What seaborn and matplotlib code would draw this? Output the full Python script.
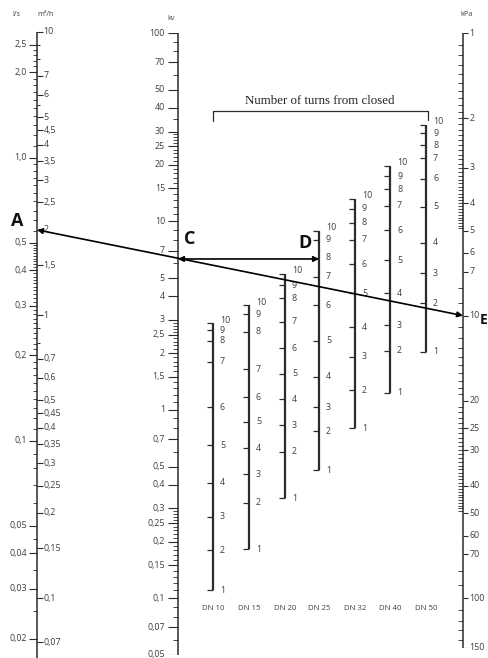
import matplotlib
matplotlib.use('Agg')
import matplotlib.pyplot as plt
import seaborn as sns
import numpy as np
from matplotlib.patches import ConnectionPatch

sns.set_theme(style='white')
plt.rcParams['font.family'] = ['Open Sans', 'DejaVu Sans']

# ---- data ----
# flow, m3/h (right side of left scale) and l/s (left side)
q_m3h_lab = ['10', '7', '6', '5', '4,5', '4', '3,5', '3', '2,5', '2', '1,5', '1',
             '0,7', '0,6', '0,5', '0,45', '0,4', '0,35', '0,3', '0,25', '0,2',
             '0,15', '0,1', '0,07']
q_ls_lab = ['2,5', '2,0', '1,0', '0,5', '0,4', '0,3', '0,2', '0,1', '0,05',
            '0,04', '0,03', '0,02']
# valve coefficient kv
kv_lab = ['100', '70', '50', '40', '30', '25', '20', '15', '10', '7', '5', '4', '3',
          '2,5', '2', '1,5', '1', '0,7', '0,5', '0,4', '0,3', '0,25', '0,2',
          '0,15', '0,1', '0,07', '0,05']
# pressure drop, kPa
dp_lab = ['1', '2', '3', '4', '5', '6', '7', '10', '20', '25', '30', '40', '50',
          '60', '70', '100', '150']

# kv at each number of turns from closed (1..10) for each valve size
turns = [1, 2, 3, 4, 5, 6, 7, 8, 9, 10]
dn_names = ['DN 10', 'DN 15', 'DN 20', 'DN 25', 'DN 32', 'DN 40', 'DN 50']
kv_dn10 = [0.11, 0.18, 0.27, 0.41, 0.65, 1.03, 1.80, 2.33, 2.65, 2.88]
kv_dn15 = [0.182, 0.321, 0.455, 0.625, 0.865, 1.17, 1.64, 2.60, 3.21, 3.60]
kv_dn20 = [0.339, 0.60, 0.83, 1.14, 1.55, 2.12, 2.94, 3.91, 4.59, 5.26]
kv_dn25 = [0.479, 0.77, 1.03, 1.50, 2.32, 3.60, 5.09, 6.40, 7.97, 8.93]
kv_dn32 = [0.80, 1.27, 1.91, 2.74, 4.15, 5.94, 7.97, 9.84, 11.7, 13.2]
kv_dn40 = [1.23, 2.06, 2.82, 4.15, 6.24, 9.00, 12.1, 14.8, 17.4, 19.8]
kv_dn50 = [2.03, 3.67, 5.30, 7.71, 12.0, 16.8, 21.6, 25.4, 29.4, 32.5]

# worked example: 2 m3/h at 10 kPa -> kv 6.3 -> DN 25 at 8 turns
ex_q = 2.0
ex_dp = 10
ex_kv = 6.32


def val(s):
    return float(s.replace(',', '.'))


W, H = 488, 658
LINE = '#2b2b2b'
TXT = '#3f3f3f'
FS = 6.4

fig = plt.figure(figsize=(W / 100, H / 100), dpi=100)
fig.patch.set_facecolor('white')


def scale_axes(top_px, bot_px, lo, hi, invert=False):
    a = fig.add_axes([0, 1 - bot_px / H, 1, (bot_px - top_px) / H])
    a.set_xlim(0, W)
    a.set_yscale('log')
    if invert:
        a.set_ylim(hi, lo)
    else:
        a.set_ylim(lo, hi)
    a.axis('off')
    a.patch.set_alpha(0)
    return a


ax_kv = scale_axes(33, 655, 0.05, 100)
ax_q = scale_axes(32, 642, 0.07, 10)
ax_ls = scale_axes(32, 642, 0.07 / 3.6, 10 / 3.6)
ax_p = scale_axes(33, 648, 1, 150, invert=True)
pix = fig.add_axes([0, 0, 1, 1])
pix.set_xlim(0, W)
pix.set_ylim(H, 0)
pix.axis('off')
pix.patch.set_alpha(0)

# ---- left scale: l/s | m3/h ----
xq = 37
ax_q.vlines(xq, 0.06, 10, color=LINE, lw=1.1, clip_on=False)
q_vals = [val(s) for s in q_m3h_lab]
ax_q.hlines(q_vals, xq, xq + 5.5, color=LINE, lw=0.8, clip_on=False)
for s, v in zip(q_m3h_lab, q_vals):
    ax_q.text(xq + 6.5, v, s, fontsize=FS, color=TXT, ha='left', va='center')
ax_q.hlines([9, 8, 5.5, 0.9, 0.8], xq, xq + 3, color=LINE, lw=0.7, clip_on=False)

ls_vals = [val(s) for s in q_ls_lab]
ax_ls.hlines(ls_vals, xq - 8, xq, color=LINE, lw=0.8, clip_on=False)
for s, v in zip(q_ls_lab, ls_vals):
    ax_ls.text(xq - 10, v, s, fontsize=FS, color=TXT, ha='right', va='center')
ls_minor = np.concatenate([np.arange(1.1, 2.45, 0.1), np.arange(0.55, 0.99, 0.05),
                           np.arange(0.21, 0.495, 0.01), np.arange(0.11, 0.195, 0.01),
                           np.arange(0.06, 0.095, 0.01), np.arange(0.025, 0.048, 0.005)])
ax_ls.hlines(ls_minor, xq - 4, xq, color=LINE, lw=0.6, clip_on=False)

# ---- kv scale ----
xk = 178
ax_kv.vlines(xk, 0.05, 100, color=LINE, lw=1.1)
kv_vals = [val(s) for s in kv_lab]
ax_kv.hlines(kv_vals, xk - 10, xk, color=LINE, lw=0.8)
for s, v in zip(kv_lab, kv_vals):
    ax_kv.text(xk - 13, v, s, fontsize=FS, color=TXT, ha='right', va='center')
kv_minor = np.concatenate([[90, 80, 60, 35], np.arange(11, 30, 1), [9, 8, 6],
                           np.arange(1.1, 3.0, 0.1), [0.9, 0.8, 0.6],
                           np.arange(0.11, 0.3, 0.01), [0.09, 0.08, 0.06]])
ax_kv.hlines(kv_minor, xk - 5, xk, color=LINE, lw=0.6)

# ---- kPa scale ----
xp = 463
ax_p.vlines(xp, 1, 150, color=LINE, lw=1.1)
dp_vals = [val(s) for s in dp_lab]
ax_p.hlines(dp_vals, xp, xp + 5, color=LINE, lw=0.8)
for s, v in zip(dp_lab, dp_vals):
    ax_p.text(xp + 6.5, v, s, fontsize=FS, color=TXT, ha='left', va='center')
dp_minor = np.concatenate([np.arange(1.1, 5.0, 0.1), [8, 9],
                           np.arange(11, 20, 1), np.arange(21, 50, 1),
                           [80, 90, 110, 120, 130, 140]])
ax_p.hlines(dp_minor, xp - 5, xp, color=LINE, lw=0.6)

# ---- valve turn scales ----
dn_x = [213, 249, 285, 319, 355, 390, 426]
dn_kv = [kv_dn10, kv_dn15, kv_dn20, kv_dn25, kv_dn32, kv_dn40, kv_dn50]
for name, x, kvs in zip(dn_names, dn_x, dn_kv):
    ax_kv.vlines(x, kvs[0], kvs[-1], color=LINE, lw=1.6)
    ax_kv.hlines(kvs, x - 6, x, color=LINE, lw=0.9)
    for t, v in zip(turns, kvs):
        dy = 3 if t == 10 else 0
        ax_kv.annotate(str(t), (x, v), xytext=(7, dy), textcoords='offset pixels',
                       fontsize=FS, color=TXT, ha='left', va='center')
    pix.text(x, 609, name, fontsize=5.6, color=TXT, ha='center', va='center')

# ---- headers ----
pix.text(16, 15, 'l/s', fontsize=5.2, color=TXT, ha='center', va='center')
pix.text(46, 15, 'm³/h', fontsize=5.2, color=TXT, ha='center', va='center')
pix.text(171, 18, 'kv', fontsize=5.2, color=TXT, ha='center', va='center')
pix.text(467, 14, 'kPa', fontsize=5.2, color=TXT, ha='center', va='center')
pix.text(320, 101, 'Number of turns from closed', family='Liberation Serif',
         fontsize=9.3, color='#222222', ha='center', va='center')
pix.plot([213, 213, 428, 428], [121, 110.5, 110.5, 120], color=LINE, lw=0.9)

# ---- worked example ----
con = ConnectionPatch(xyA=(xq, ex_q), coordsA=ax_q.transData,
                      xyB=(xp, ex_dp), coordsB=ax_p.transData,
                      arrowstyle='<|-|>', mutation_scale=8, lw=1.2, color='black',
                      shrinkA=0, shrinkB=0)
fig.add_artist(con)
ax_kv.annotate('', xy=(dn_x[3], ex_kv), xytext=(xk, ex_kv),
               arrowprops=dict(arrowstyle='<|-|>', mutation_scale=8, lw=1.2,
                               color='black', shrinkA=0, shrinkB=0))

lab_kw = dict(textcoords='offset pixels', fontsize=13, fontweight='bold',
              color='#111111', ha='center', va='center')
ax_q.annotate('A', (xq, ex_q), xytext=(-20, 9), **lab_kw)
ax_kv.annotate('C', (xk, ex_kv), xytext=(12, 20), **lab_kw)
ax_kv.annotate('D', (dn_x[3], ex_kv), xytext=(-14, 16), **lab_kw)
lab_e = dict(lab_kw, fontsize=10, ha='right')
ax_p.annotate('E', (xp, ex_dp), xytext=(24.5, -4), **lab_e)

fig.savefig('out.png', dpi=100)
